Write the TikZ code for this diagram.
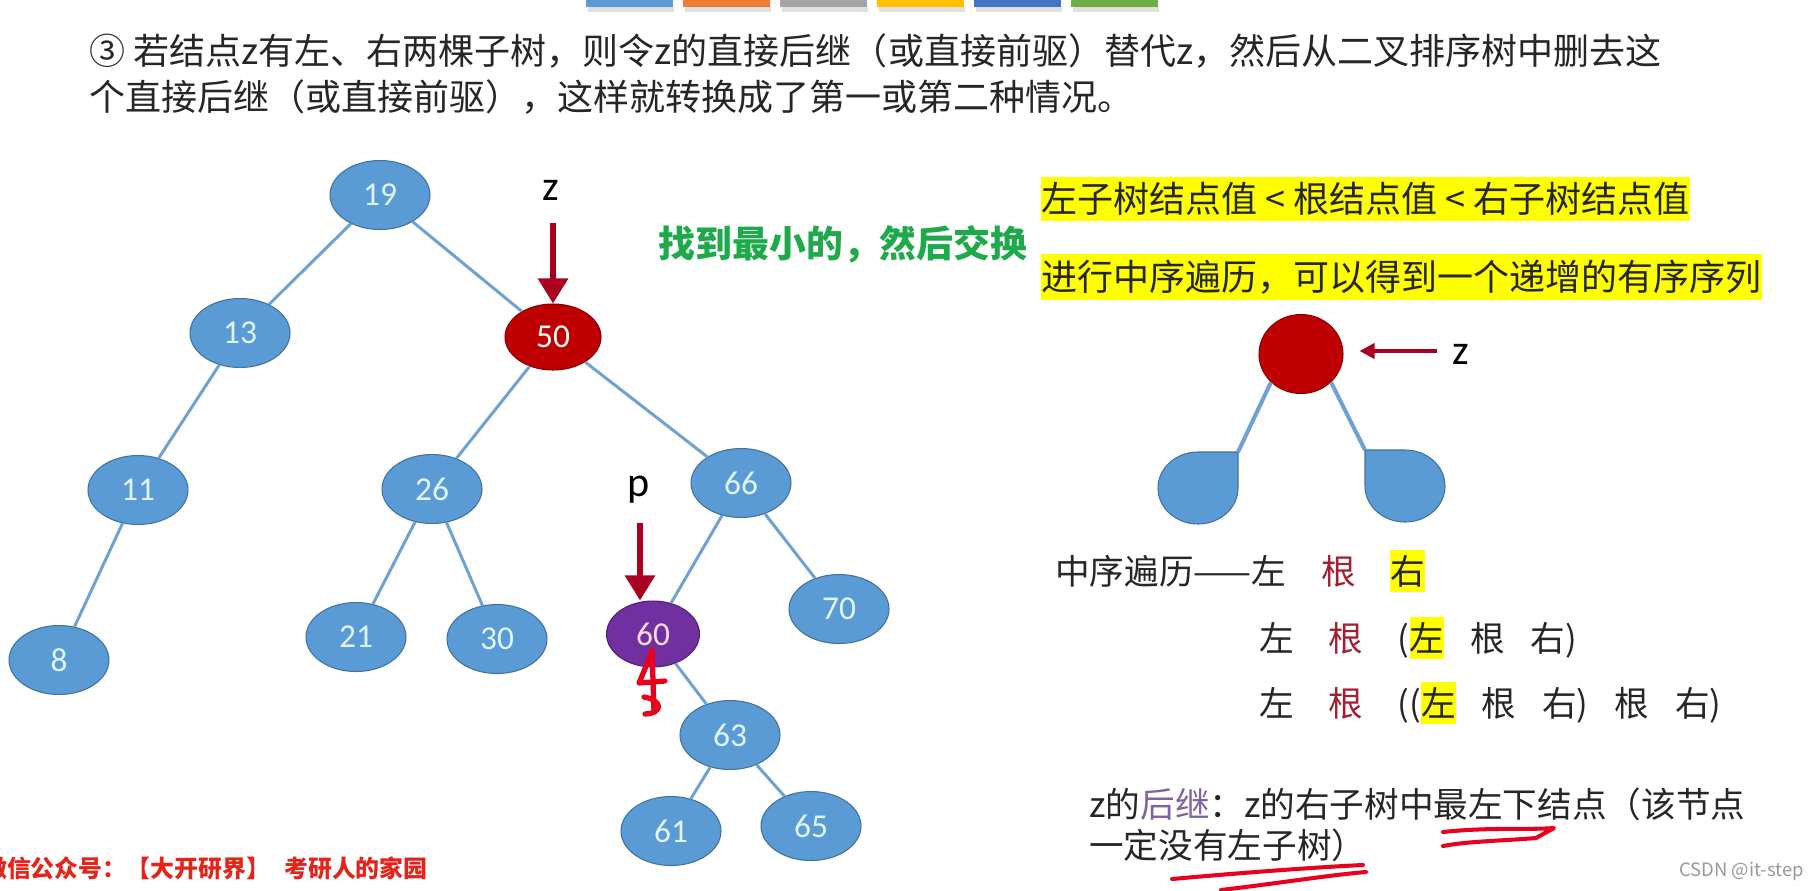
\documentclass[tikz,border=0pt]{standalone}
\usepackage{fontspec}
\setmainfont{Noto Sans CJK SC}
\newfontfamily\numfont{Carlito}
\usetikzlibrary{shapes.geometric,arrows.meta}

\definecolor{nodeblue}{HTML}{5B9BD5}
\definecolor{nodeline}{HTML}{41719C}
\definecolor{edgeblue}{HTML}{6FA2D2}
\definecolor{zred}{HTML}{C00000}
\definecolor{arrowred}{HTML}{A8001E}
\definecolor{ppurple}{HTML}{7030A0}
\definecolor{hlyellow}{HTML}{FFFF00}
\definecolor{textgray}{HTML}{262626}
\definecolor{rootred}{HTML}{A31F34}
\definecolor{succpurple}{HTML}{8064A2}
\definecolor{findgreen}{HTML}{1EAA4A}
\definecolor{inkred}{HTML}{E8001C}
\definecolor{wmred}{HTML}{E5231B}
\definecolor{barblue}{HTML}{5B9BD5}
\definecolor{barorange}{HTML}{ED7D31}
\definecolor{bargray}{HTML}{A5A5A5}
\definecolor{baryellow}{HTML}{FFC000}
\definecolor{bardarkblue}{HTML}{4472C4}
\definecolor{bargreen}{HTML}{70AD47}

\newcommand\hlbox[1]{{\setlength{\fboxsep}{0pt}\colorbox{hlyellow}{\rule[-0.24em]{0pt}{1.24em}#1}}}

\tikzset{
    bst node/.style={
      ellipse,
      draw=nodeline,
      line width=0.6pt,
      fill=nodeblue,
      minimum width=2cm,
      minimum height=1.38cm,
      inner sep=0pt,
      text=white!88!cyan,
      font=\numfont\fontsize{19pt}{19pt}\selectfont
    },
    z node/.style={
      fill=zred,
      draw=zred!70!black,
      minimum width=1.92cm,
      minimum height=1.32cm,
      text=white
    },
    p node/.style={
      fill=ppurple,
      draw=ppurple!70!black,
      minimum width=1.86cm,
      minimum height=1.32cm,
      text=white!85!magenta
    },
    tree edge/.style={
      draw=edgeblue,
      line width=1.7pt
    },
    ptr arrow/.style={
      draw=arrowred,
      line width=3.4pt,
      -{Triangle[width=0.58cm,length=0.5cm]}
    },
    ptr label/.style={
      inner sep=0pt,
      text=black,
      font=\numfont\fontsize{24pt}{24pt}\selectfont
    },
    title text/.style={
      anchor=west,
      inner sep=0pt,
      text=textgray,
      font=\fontsize{20.5pt}{25pt}\selectfont
    },
    hl line/.style={
      anchor=west,
      fill=hlyellow,
      inner xsep=0pt,
      minimum height=0.84cm,
      text=textgray,
      font=\fontsize{20.5pt}{24pt}\selectfont
    },
    order text/.style={
      anchor=west,
      inner sep=0pt,
      text=textgray,
      font=\fontsize{19.7pt}{24pt}\selectfont
    },
    ink/.style={
      draw=inkred,
      line width=2.3pt,
      line cap=round,
      line join=round
    }
  }

\begin{document}
\begin{tikzpicture}[x=0.02cm, y=-0.02cm]
      \useasboundingbox (0,0) rectangle (1819,890);
      \fill[white] (0,0) rectangle (1819,890);

      % 顶部色条
      \foreach \c [count=\i from 0] in {barblue,barorange,bargray,baryellow,bardarkblue,bargreen}{
        \fill[black!12] (588+97*\i,6) rectangle ++(86,6);
        \fill[\c] (586+97*\i,0) rectangle ++(87,7);
      }

      % 标题
      \node[title text] (title1) at (89,51) {③ 若结点z有左、右两棵子树，则令z的直接后继（或直接前驱）替代z，然后从二叉排序树中删去这};
      \node[title text] (title2) at (89,97) {个直接后继（或直接前驱），这样就转换成了第一或第二种情况。};

      % 二叉排序树
      \node[bst node] (n19) at (380,195) {19};
      \node[bst node] (n13) at (240,333) {13};
      \node[bst node, z node] (n50) at (553,337) {50};
      \node[bst node] (n11) at (138,490) {11};
      \node[bst node] (n26) at (432,489) {26};
      \node[bst node] (n66) at (741,483) {66};
      \node[bst node] (n8) at (59,660) {8};
      \node[bst node] (n21) at (356,637) {21};
      \node[bst node] (n30) at (497,639) {30};
      \node[bst node, p node] (n60) at (653,634) {60};
      \node[bst node] (n70) at (839,609) {70};
      \node[bst node] (n63) at (730,735) {63};
      \node[bst node] (n61) at (671,831) {61};
      \node[bst node] (n65) at (811,826) {65};

      \foreach \a/\b in {n19/n13,n19/n50,n13/n11,n11/n8,n50/n26,n50/n66,n26/n21,n26/n30,n66/n60,n66/n70,n60/n63,n63/n61,n63/n65}
        \draw[tree edge] (\a) -- (\b);

      % z, p 指针
      \coordinate (zTop) at (553,223);
      \node[ptr label] (zLab) at (551,190) {z};
      \draw[ptr arrow] (zTop) -- (zTop |- n50.north);
      \coordinate (pTop) at (640,523);
      \node[ptr label] (pLab) at (639,490) {p};
      \draw[ptr arrow] (pTop) -- (pTop |- n60.north);

      % 手写标记
      \draw[ink, line width=3pt] (652,652) -- (639,683) -- (665,681);
      \draw[ink, line width=3pt] (652,650) -- (654,712);
      \draw[ink, line width=3pt] (644,697) .. controls (662,700) and (664,713) .. (645,714);

      \node[text=findgreen, inner sep=0pt, font=\bfseries\fontsize{21pt}{24pt}\selectfont] (findLab) at (843,244) {找到最小的，然后交换};

      % 性质
      \node[hl line] (rule1) at (1041,199) {左子树结点值 < 根结点值 < 右子树结点值};
      \node[hl line] (rule2) at (1041,277) {进行中序遍历，可以得到一个递增的有序序列};

      % 小树
      \node[ellipse, fill=zred, draw=zred!70!black, line width=0.6pt, minimum width=1.68cm, minimum height=1.58cm] (zroot) at (1301,354) {};
      \coordinate (zTail) at (1437,351);
      \draw[draw=arrowred, line width=2.3pt, -{Triangle[width=0.3cm,length=0.3cm]}, shorten >=0.32cm] (zTail) -- (zroot.east |- zTail);
      \node[ptr label] (zLab2) at (1461,354) {z};

      \coordinate (lcorner) at (1238,452);
      \coordinate (rcorner) at (1365,450);
      \draw[fill=nodeblue, draw=nodeline, line width=0.6pt] (lcorner) -- (1198,452) .. controls (1176,452) and (1158,468) .. (1158,488) .. controls (1158,508) and (1176,524) .. (1198,524) .. controls (1220,524) and (1238,508) .. (1238,488) -- cycle;
      \draw[fill=nodeblue, draw=nodeline, line width=0.6pt] (rcorner) -- (1405,450) .. controls (1427,450) and (1445,466) .. (1445,486) .. controls (1445,506) and (1427,522) .. (1405,522) .. controls (1383,522) and (1365,506) .. (1365,486) -- cycle;
      \draw[tree edge, line width=2.3pt] (zroot.south west) -- (lcorner);
      \draw[tree edge, line width=2.3pt] (zroot.south east) -- (rcorner);

      % 中序遍历
      \node[order text] (ord1) at (1055,571) {中序遍历——左\quad\textcolor{rootred}{根}\quad\hlbox{右}};
      \node[order text] (ord2) at (1259,638) {左\quad\textcolor{rootred}{根}\quad(\hlbox{左}\hspace{0.75em}根\hspace{0.75em}右)};
      \node[order text] (ord3) at (1259,703) {左\quad\textcolor{rootred}{根}\quad((\hlbox{左}\hspace{0.75em}根\hspace{0.75em}右)\hspace{0.75em}根\hspace{0.75em}右)};

      % 后继
      \node[order text] (succ1) at (1089,804) {z的\textcolor{succpurple}{后继}：z的右子树中最左下结点（该节点};
      \node[order text] (succ2) at (1089,845) {一定没有左子树）};
      \draw[ink] (1443,832) .. controls (1490,827) and (1530,830) .. (1554,828) -- (1536,838) .. controls (1500,841) and (1470,841) .. (1443,846);
      \draw[ink] (1172,879) .. controls (1250,872) and (1320,867) .. (1363,865);
      \draw[ink] (1221,890) .. controls (1280,883) and (1330,875) .. (1366,872);

      % 水印
      \node[anchor=east, inner sep=0pt, text=black!40, font=\fontsize{10.5pt}{12pt}\selectfont] (csdn) at (1804,871) {CSDN @it-step};
      \node[anchor=east, inner sep=0pt, text=wmred, font=\bfseries\fontsize{13.6pt}{15pt}\selectfont] (wechat) at (428,868) {微信公众号：【大开研界】\hspace{0.6em}考研人的家园};
    \end{tikzpicture}
\end{document}
